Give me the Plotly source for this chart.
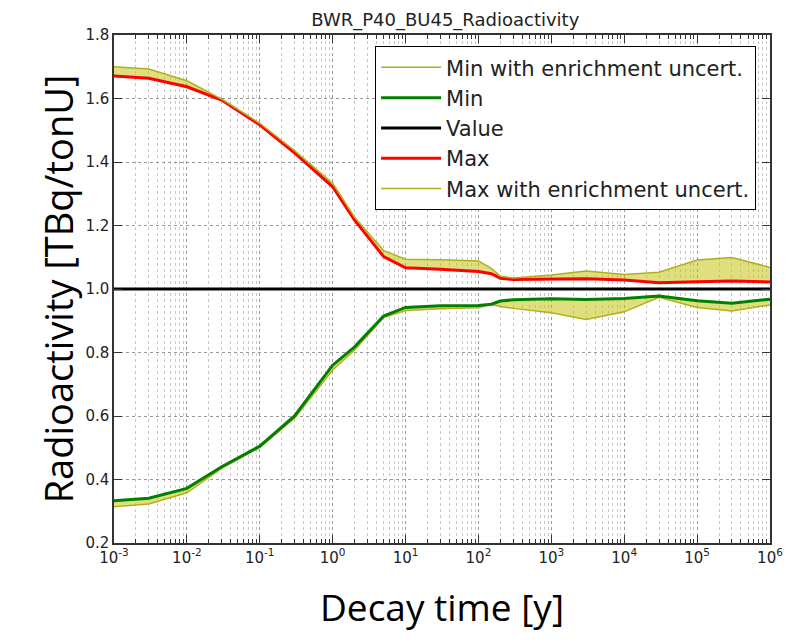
import plotly.graph_objects as go

# decay time [y] and the four bounds
decay_time = [1e-3, 3e-3, 1e-2, 3e-2, 0.1, 0.3, 1, 2, 5, 10, 30, 100, 150, 200, 300,
              1e3, 3e3, 1e4, 3e4, 1e5, 3e5, 1e6]
max_enr = [1.700, 1.693, 1.656, 1.598, 1.522, 1.436, 1.333, 1.226, 1.121, 1.094, 1.092,
           1.088, 1.065, 1.040, 1.035, 1.044, 1.057, 1.046, 1.053, 1.091, 1.099, 1.068]
max_val = [1.671, 1.664, 1.637, 1.595, 1.517, 1.429, 1.322, 1.217, 1.102, 1.067, 1.062,
           1.055, 1.048, 1.034, 1.030, 1.031, 1.032, 1.028, 1.020, 1.023, 1.025, 1.022]
min_val = [0.333, 0.341, 0.372, 0.440, 0.505, 0.600, 0.760, 0.818, 0.915, 0.942, 0.947,
           0.948, 0.952, 0.962, 0.966, 0.969, 0.967, 0.970, 0.978, 0.963, 0.955, 0.968]
min_enr = [0.314, 0.323, 0.358, 0.435, 0.501, 0.593, 0.745, 0.808, 0.910, 0.932, 0.938,
           0.941, 0.952, 0.945, 0.939, 0.925, 0.904, 0.928, 0.974, 0.942, 0.931, 0.950]
value = [1.0] * len(decay_time)

x_tickvals = [1e-3, 1e-2, 1e-1, 1, 10, 100, 1e3, 1e4, 1e5, 1e6]
x_ticktext = ["10<sup>-3</sup>", "10<sup>-2</sup>", "10<sup>-1</sup>", "10<sup>0</sup>",
              "10<sup>1</sup>", "10<sup>2</sup>", "10<sup>3</sup>", "10<sup>4</sup>",
              "10<sup>5</sup>", "10<sup>6</sup>"]

FILL = "rgba(191,191,0,0.5)"
ENR = "#b0b01e"

fig = go.Figure()

# shaded bands (no legend)
for base, edge in [(max_val, max_enr), (min_val, min_enr)]:
    fig.add_scatter(x=decay_time, y=base, mode="lines", line=dict(width=0),
                    showlegend=False, hoverinfo="skip")
    fig.add_scatter(x=decay_time, y=edge, mode="lines", line=dict(width=0),
                    fill="tonexty", fillcolor=FILL, showlegend=False, hoverinfo="skip")

fig.add_scatter(x=decay_time, y=min_enr, mode="lines", name="Min with enrichment uncert.",
                line=dict(color=ENR, width=1.5))
fig.add_scatter(x=decay_time, y=min_val, mode="lines", name="Min",
                line=dict(color="#008000", width=3))
fig.add_scatter(x=decay_time, y=value, mode="lines", name="Value",
                line=dict(color="black", width=3))
fig.add_scatter(x=decay_time, y=max_val, mode="lines", name="Max",
                line=dict(color="#ff0000", width=3))
fig.add_scatter(x=decay_time, y=max_enr, mode="lines", name="Max with enrichment uncert.",
                line=dict(color=ENR, width=1.5))

axis_common = dict(
    showline=True, linecolor="#333333", linewidth=1.5, mirror="allticks",
    ticks="inside", ticklen=8, tickcolor="#333333",
    showgrid=True, gridcolor="#999999", griddash="dot", gridwidth=1,
    zeroline=False, automargin=False,
    tickfont=dict(family="DejaVu Sans", size=15, color="#222222"),
)

# page body adds an 8px offset, so the figure is a bit smaller than the window
fig.update_layout(
    width=785, height=636,
    margin=dict(l=106, r=23, t=27, b=101),
    paper_bgcolor="white", plot_bgcolor="white",
    title=dict(text="BWR_P40_BU45_Radioactivity", x=0.557, xanchor="center",
               y=0.981, yanchor="middle",
               font=dict(family="DejaVu Sans", size=18, color="#222222")),
    xaxis=dict(
        type="log", range=[-3, 6], tickvals=x_tickvals, ticktext=x_ticktext,
        title=dict(text="Decay time [y]", standoff=29,
                   font=dict(family="Open Sans", size=37, color="black")),
        minor=dict(ticks="inside", ticklen=4, tickcolor="#333333", showgrid=True,
                   gridcolor="#c8c8c8", griddash="dot", dtick="D1"),
        **axis_common,
    ),
    yaxis=dict(
        range=[0.2, 1.8], dtick=0.2, tickformat=".1f",
        title=dict(text="Radioactivity [TBq/tonU]", standoff=0,
                   font=dict(family="Open Sans", size=38, color="black")),
        **axis_common,
    ),
    legend=dict(
        x=0.398, y=0.978, xanchor="left", yanchor="top", traceorder="normal",
        itemwidth=60,
        bgcolor="white", bordercolor="black", borderwidth=1,
        font=dict(family="DejaVu Sans", size=21, color="#222222"),
    ),
    showlegend=True,
)

fig.write_html("out.html")
